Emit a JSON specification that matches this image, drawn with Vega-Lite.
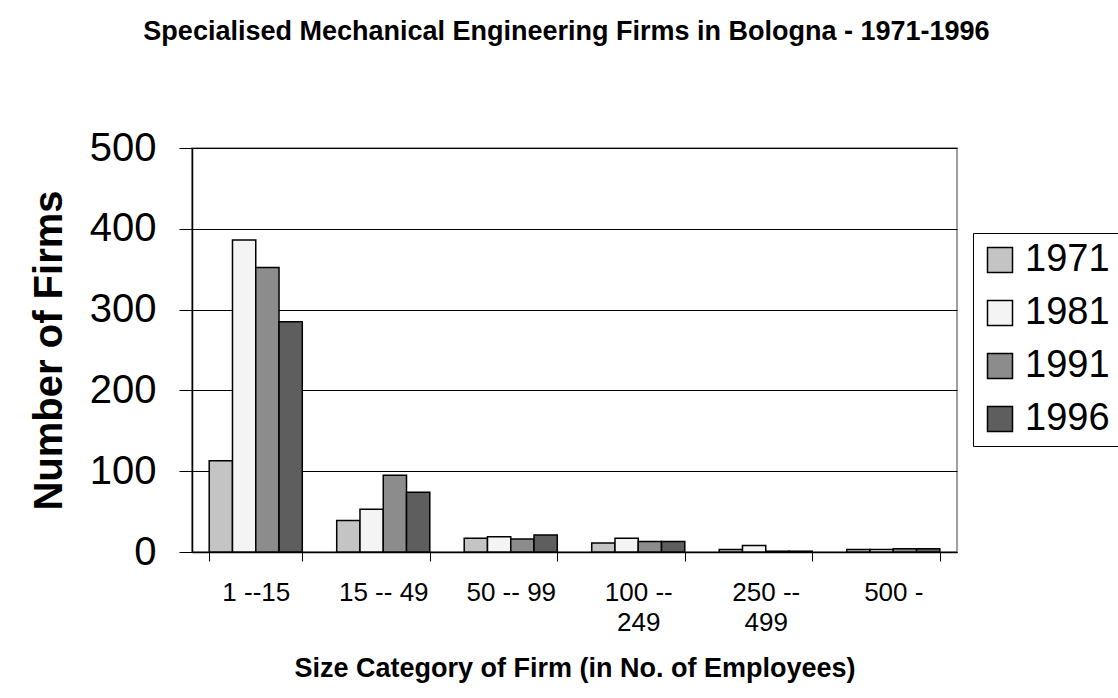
{
  "$schema": "https://vega.github.io/schema/vega-lite/v6.json",
  "width": 765,
  "height": 404,
  "autosize": "none",
  "padding": {"left": 192, "top": 148, "right": 161, "bottom": 146},
  "background": "white",
  "title": {
    "text": "Specialised Mechanical Engineering Firms in Bologna - 1971-1996",
    "fontSize": 27,
    "font": "Liberation Sans",
    "fontWeight": "bold",
    "color": "black",
    "anchor": "middle",
    "frame": "group",
    "baseline": "alphabetic",
    "offset": 61,
    "dx": -8
  },
  "data": {
    "values": [
      {"size": "1 --15", "year": "1971", "firms": 113},
      {"size": "1 --15", "year": "1981", "firms": 386},
      {"size": "1 --15", "year": "1991", "firms": 352},
      {"size": "1 --15", "year": "1996", "firms": 285},
      {"size": "15 -- 49", "year": "1971", "firms": 39},
      {"size": "15 -- 49", "year": "1981", "firms": 53},
      {"size": "15 -- 49", "year": "1991", "firms": 95},
      {"size": "15 -- 49", "year": "1996", "firms": 74},
      {"size": "50 -- 99", "year": "1971", "firms": 17},
      {"size": "50 -- 99", "year": "1981", "firms": 19},
      {"size": "50 -- 99", "year": "1991", "firms": 16},
      {"size": "50 -- 99", "year": "1996", "firms": 21},
      {"size": "100 --\n249", "year": "1971", "firms": 11},
      {"size": "100 --\n249", "year": "1981", "firms": 17},
      {"size": "100 --\n249", "year": "1991", "firms": 13},
      {"size": "100 --\n249", "year": "1996", "firms": 13},
      {"size": "250 --\n499", "year": "1971", "firms": 3},
      {"size": "250 --\n499", "year": "1981", "firms": 8},
      {"size": "250 --\n499", "year": "1991", "firms": 1},
      {"size": "250 --\n499", "year": "1996", "firms": 1},
      {"size": "500 -", "year": "1971", "firms": 3},
      {"size": "500 -", "year": "1981", "firms": 3},
      {"size": "500 -", "year": "1991", "firms": 4},
      {"size": "500 -", "year": "1996", "firms": 4}
    ]
  },
  "mark": {"type": "bar", "stroke": "black", "strokeWidth": 1.5},
  "encoding": {
    "x": {
      "field": "size",
      "type": "nominal",
      "sort": null,
      "scale": {"paddingInner": 0.27, "paddingOuter": 0.135},
      "axis": {
        "title": "Size Category of Firm (in No. of Employees)",
        "labelAngle": 0,
        "labelExpr": "split(datum.label, '\\n')",
        "labelFontSize": 26,
        "labelLineHeight": 30,
        "labelPadding": 18,
        "labelColor": "black",
        "tickSize": 9,
        "tickColor": "black",
        "tickBand": "extent",
        "domainColor": "black",
        "domainWidth": 1.5,
        "titleFontSize": 27,
        "titleFontWeight": "bold",
        "titleColor": "black",
        "titlePadding": 20,
        "grid": false
      }
    },
    "xOffset": {"field": "year", "type": "nominal", "scale": {"paddingInner": 0, "paddingOuter": 0}},
    "y": {
      "field": "firms",
      "type": "quantitative",
      "scale": {"domain": [0, 500], "nice": false},
      "axis": {
        "title": "Number of Firms",
        "values": [0, 100, 200, 300, 400, 500],
        "labelFontSize": 40,
        "labelColor": "black",
        "labelPadding": 23,
        "tickSize": 13,
        "tickColor": "black",
        "domainColor": "black",
        "domainWidth": 1.5,
        "grid": true,
        "gridColor": "black",
        "gridWidth": 1,
        "gridOpacity": 1,
        "titleFontSize": 40,
        "titleFontWeight": "bold",
        "titleColor": "black",
        "titlePadding": 20
      }
    },
    "color": {
      "field": "year",
      "type": "nominal",
      "scale": {"domain": ["1971", "1981", "1991", "1996"], "range": ["#c4c4c4", "#f4f4f4", "#8c8c8c", "#5e5e5e"]},
      "legend": {
        "title": null,
        "orient": "none",
        "legendX": 781,
        "legendY": 85,
        "strokeColor": "black",
        "fillColor": "white",
        "padding": 8,
        "labelFontSize": 38,
        "labelColor": "black",
        "labelOffset": 6,
        "symbolType": "square",
        "symbolSize": 625,
        "symbolStrokeColor": "black",
        "symbolStrokeWidth": 1.5,
        "symbolOpacity": 1,
        "rowPadding": 15
      }
    }
  },
  "config": {
    "font": "Liberation Sans",
    "view": {"stroke": "#808080", "strokeWidth": 1.5},
    "axis": {"labelFont": "Liberation Sans", "titleFont": "Liberation Sans"},
    "legend": {"labelFont": "Liberation Sans"}
  }
}
